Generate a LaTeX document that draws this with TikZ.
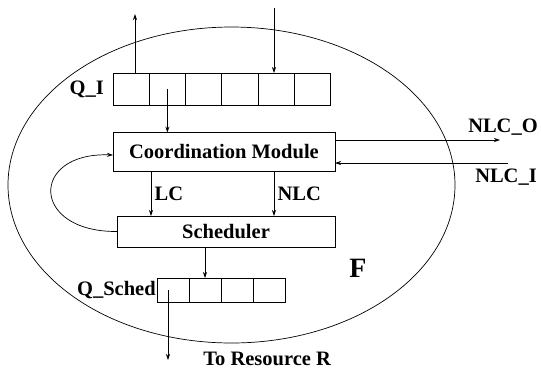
\documentclass[tikz,border=0pt]{standalone}
\usepackage{fontspec}
\setmainfont{Liberation Serif}
\usetikzlibrary{arrows.meta}

\begin{document}
\begin{tikzpicture}[
  x=1pt, y=-1pt, % pixel-like coordinates, y grows downwards
  line width=0.7pt,
  every node/.style={font=\fontsize{20.5}{23}\selectfont\bfseries, text=black},
  module/.style={rectangle, draw=black, inner sep=0pt, outer sep=0pt}, % big boxes
  cell/.style={rectangle, draw=black, inner sep=0pt, outer sep=0pt}, % queue slots
  flow/.style={-{Stealth[length=6pt,width=4pt]}} % all arrows
]
\useasboundingbox (0,0) rectangle (541,368);

% Boundary of F
\draw (231.5,185) ellipse [x radius=223.5pt, y radius=158pt];

% Input queue
\foreach \i in {1,...,6}
  \node[cell, minimum width=36.2pt, minimum height=32pt] (qi\i) at (95+36.2*\i,89) {};
\node[anchor=east, inner sep=2pt] (qilab) at (qi1.west) {Q\_I\,\,};

% Modules
\node[module, minimum width=222pt, minimum height=39pt] (cm) at (224,152) {Coordination Module};
\node[module, minimum width=218pt, minimum height=31pt] (sch) at (226,231.5) {Scheduler};

% Scheduler queue
\foreach \i in {1,...,4}
  \node[cell, minimum width=32pt, minimum height=24pt] (qs\i) at (141+32*\i,290) {};
\node[anchor=east, inner sep=1pt] (qslab) at (qs1.west) {Q\_Sched};

% Free ends
\coordinate (out) at (135,14);
\coordinate (in) at (274,8);
\coordinate (nlco) at (500,140);
\coordinate (nlci) at (508,163);
\coordinate (res) at (168,360);

% Labels
\node (nlcolab) at (503,127) {NLC\_O};
\node (nlcilab) at (506,177) {NLC\_I};
\node[anchor=base west, inner sep=0pt] (reslab) at (203,365) {To Resource R};
\node[font=\fontsize{28}{30}\selectfont\bfseries] (flab) at (358,268) {F};

% Connections
\draw[flow] (qi1.north -| out) -- (out);
\draw[flow] (in) -- (in |- qi5.north);
\draw[flow] (qi2.center) -- (qi2.center |- cm.north);
\draw[flow] ([xshift=38pt]cm.south west) -- node[right] {LC} ([xshift=38pt]cm.south west |- sch.north);
\draw[flow] ([xshift=161pt]cm.south west) -- node[right] {NLC} ([xshift=161pt]cm.south west |- sch.north);
\draw[flow] (sch.west) .. controls (30,232) and (30,152) .. ([yshift=-3pt]cm.west);
\draw[flow] ([yshift=12pt]cm.east) -- (nlco);
\draw[flow] (nlci) -- ([yshift=-11pt]cm.east);
\draw[flow] (sch.south -| qs2.center) -- (qs2.north);
\draw[flow] (qs1.center -| res) -- (res);

\end{tikzpicture}
\end{document}
